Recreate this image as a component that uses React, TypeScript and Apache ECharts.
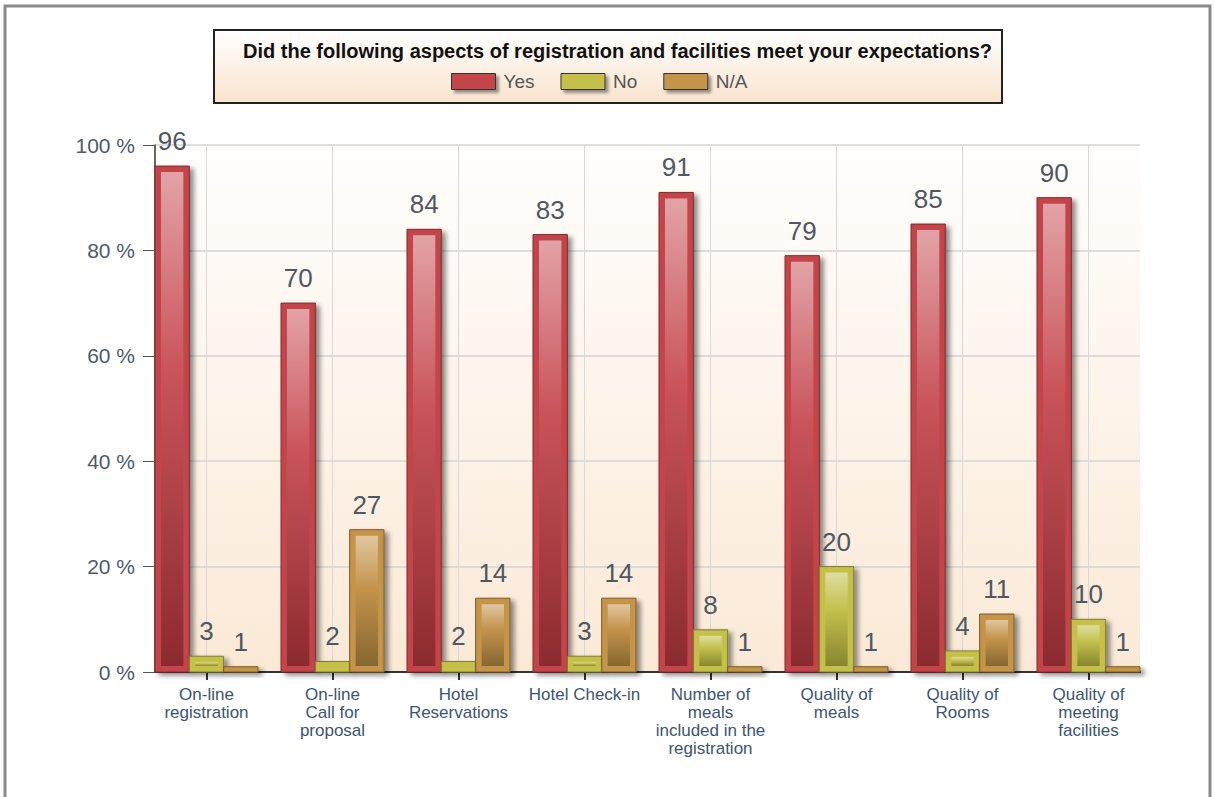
import React, { useEffect, useRef } from "react";
import * as echarts from "echarts";

const TITLE = "Did the following aspects of registration and facilities meet your expectations?";
const CATEGORIES = [
  "On-line\nregistration",
  "On-line\nCall for\nproposal",
  "Hotel\nReservations",
  "Hotel Check-in",
  "Number of\nmeals\nincluded in the\nregistration",
  "Quality of\nmeals",
  "Quality of\nRooms",
  "Quality of\nmeeting\nfacilities",
];
const SERIES_NAMES = ["Yes", "No", "N/A"];
const YES = [96, 70, 84, 83, 91, 79, 85, 90];
const NO = [3, 2, 2, 3, 8, 20, 4, 10];
const NA = [1, 27, 14, 14, 1, 1, 11, 1];
const Y_TICKS = [0, 20, 40, 60, 80, 100];

const PALETTES = [
  { frame: "#c4454a", edge: "#7e2a2d", stops: ["#e2a3a6", "#c9545a", "#8b2b2f"] },
  { frame: "#c4c04a", edge: "#7c7a2c", stops: ["#dedda0", "#c3c14c", "#87862f"] },
  { frame: "#c4944a", edge: "#7c5a28", stops: ["#e0c6a0", "#c4944c", "#876630"] },
];

const GROUP_UNITS = 103 / 126;
const HALF = GROUP_UNITS / 2;

export default function App() {
  const ref = useRef<HTMLDivElement>(null);
  useEffect(() => {
    document.body.style.margin = "0";
    const chart = echarts.init(ref.current!, null, { renderer: "svg" });
    const values = [YES, NO, NA];

    const makeRender = (si: number) => (params: any, api: any) => {
      const cat = api.value(0);
      const val = api.value(1);
      const top = api.coord([cat, val]);
      const base = api.coord([cat, 0]);
      const unit = api.size([1, 0])[0];
      const bw = (unit * GROUP_UNITS) / 3;
      const cx = top[0] + (si - 1) * bw;
      const x = cx - bw / 2;
      const y = top[1];
      const h = base[1] - top[1];
      const pal = PALETTES[si];
      const children: any[] = [
        {
          type: "rect",
          shape: { x, y, width: bw, height: h },
          style: {
            fill: pal.frame,
            stroke: pal.edge,
            lineWidth: 1,
            shadowBlur: 5,
            shadowOffsetX: 4,
            shadowOffsetY: 3,
            shadowColor: "rgba(0,0,0,0.45)",
          },
        },
      ];
      if (h > 14) {
        children.push({
          type: "rect",
          shape: { x: x + 6, y: y + 6, width: bw - 12, height: h - 12 },
          style: {
            fill: new echarts.graphic.LinearGradient(0, 0, 0, 1, [
              { offset: 0, color: pal.stops[0] },
              { offset: 0.4, color: pal.stops[1] },
              { offset: 1, color: pal.stops[2] },
            ]),
          },
        });
      }
      children.push({
        type: "text",
        x: cx,
        y: y - 12,
        style: {
          text: String(val),
          fill: "#4e5862",
          font: '26px "Liberation Sans", Arial, sans-serif',
          align: "center",
          verticalAlign: "bottom",
        },
      });
      return { type: "group", children };
    };

    chart.setOption({
      animation: false,
      backgroundColor: "#ffffff",
      title: {
        text: TITLE,
        left: 238,
        top: 36,
        textStyle: {
          fontFamily: "'Liberation Sans Narrow', 'Liberation Sans', Arial, sans-serif",
          fontWeight: "bold",
          fontSize: 20,
          color: "#111111",
        },
      },
      legend: {
        left: 446,
        top: 67,
        itemWidth: 44,
        itemHeight: 16,
        itemGap: 26,
        icon: "rect",
        textStyle: {
          fontFamily: "'Liberation Sans', Arial, sans-serif",
          fontSize: 19,
          color: "#555555",
          padding: [0, 0, 0, 3],
        },
        data: SERIES_NAMES.map((n, i) => ({
          name: n,
          itemStyle: {
            color: PALETTES[i].frame,
            borderColor: "#333333",
            borderWidth: 1,
            shadowBlur: 3,
            shadowOffsetX: 3,
            shadowOffsetY: 3,
            shadowColor: "rgba(0,0,0,0.4)",
          },
        })),
      },
      graphic: [
        {
          type: "rect",
          z: -10,
          shape: { x: 5, y: 6, width: 1205, height: 820 },
          style: { fill: "none", stroke: "#8a8a8a", lineWidth: 3 },
        },
        {
          type: "rect",
          z: -5,
          shape: { x: 214, y: 30, width: 788, height: 73 },
          style: {
            fill: new echarts.graphic.LinearGradient(0, 0, 0, 1, [
              { offset: 0, color: "#ffffff" },
              { offset: 1, color: "#f9e3cd" },
            ]),
            stroke: "#222222",
            lineWidth: 2,
          },
        },
      ],
      grid: {
        left: 155,
        right: 74,
        top: 145,
        bottom: 125,
        show: true,
        borderWidth: 0,
        backgroundColor: new echarts.graphic.LinearGradient(0, 0, 0, 1, [
          { offset: 0, color: "#fffefd" },
          { offset: 1, color: "#fbe9d6" },
        ]),
      },
      xAxis: {
        type: "value",
        min: -HALF,
        max: CATEGORIES.length - 1 + HALF,
        axisLine: { onZero: false, lineStyle: { color: "#333333", width: 2 } },
        axisTick: {
          show: true,
          length: 8,
          customValues: CATEGORIES.map((_, i) => i),
          lineStyle: { color: "#333333", width: 2 },
        },
        splitLine: {
          show: true,
          lineStyle: { color: "#d8d8d8", width: 1 },
        },
        axisLabel: {
          customValues: CATEGORIES.map((_, i) => i),
          formatter: (v: number) => CATEGORIES[Math.round(v)] ?? "",
          fontFamily: "'Liberation Sans', Arial, sans-serif",
          fontSize: 17,
          lineHeight: 18,
          color: "#3c5570",
          margin: 13,
          verticalAlign: "top",
        },
      },
      yAxis: {
        type: "value",
        min: Y_TICKS[0],
        max: Y_TICKS[Y_TICKS.length - 1],
        interval: 20,
        axisLine: { show: true, onZero: false, lineStyle: { color: "#333333", width: 1.5 } },
        axisTick: { show: true, length: 12, lineStyle: { color: "#555555" } },
        splitLine: { show: true, lineStyle: { color: "#d5d5d5", width: 1.5 } },
        axisLabel: {
          formatter: "{value} %",
          fontFamily: "'Liberation Sans', Arial, sans-serif",
          fontSize: 21,
          color: "#4b5b6d",
          margin: 20,
        },
      },
      series: values.map((arr, si) => ({
        type: "custom",
        name: SERIES_NAMES[si],
        itemStyle: { color: PALETTES[si].frame },
        renderItem: makeRender(si),
        encode: { x: 0, y: 1 },
        data: arr.map((v, i) => [i, v]),
        clip: false,
      })),
    });
    return () => chart.dispose();
  }, []);
  return <div ref={ref} style={{ width: 1214, height: 797 }} />;
}
